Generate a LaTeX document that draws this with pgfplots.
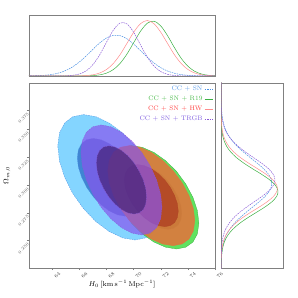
\documentclass[border=0pt]{standalone}
\usepackage{pgfplots}
\pgfplotsset{compat=1.18}
\usepackage{pgfplotstable}

\definecolor{lblue}{HTML}{4A90E2}
\definecolor{lgreen}{HTML}{3CB043}
\definecolor{lred}{HTML}{FF8C8C}
\definecolor{lpurple}{HTML}{8A5AD6}
\definecolor{tblue}{HTML}{5B9BE8}
\definecolor{tgreen}{HTML}{4CBB4C}
\definecolor{tred}{HTML}{FF4040}
\definecolor{tpurple}{HTML}{8060E0}
\definecolor{fbo}{HTML}{6FCEFF}
\definecolor{fbi}{HTML}{3377CC}
\definecolor{fgo}{HTML}{44DD44}
\definecolor{fgi}{HTML}{229922}
\definecolor{foo}{HTML}{E2743C}
\definecolor{foi}{HTML}{B04424}
\definecolor{fpo}{HTML}{8855EE}
\definecolor{fpi}{HTML}{442277}
\definecolor{frame}{HTML}{808080}

\pgfplotstableread{
x b g r p
62.0 0.0009 0 0 0
62.5 0.0024 0 0 0
63.0 0.0058 0 0 0
63.5 0.0129 0 0 0
64.0 0.0266 0 0 0.0002
64.5 0.0509 0 0 0.0007
65.0 0.0907 0 0.0002 0.0031
65.5 0.150 0.0001 0.0007 0.0110
66.0 0.231 0.0005 0.0024 0.0332
66.5 0.330 0.0020 0.0074 0.0853
67.0 0.439 0.0064 0.0203 0.187
67.5 0.543 0.0186 0.0494 0.349
68.0 0.624 0.0471 0.107 0.555
68.5 0.666 0.105 0.206 0.752
69.0 0.661 0.207 0.351 0.869
69.5 0.610 0.358 0.533 0.855
70.0 0.523 0.546 0.717 0.717
70.5 0.417 0.732 0.857 0.512
71.0 0.309 0.864 0.910 0.312
71.5 0.213 0.898 0.857 0.162
72.0 0.136 0.821 0.717 0.0716
72.5 0.0813 0.661 0.533 0.0270
73.0 0.0450 0.468 0.351 0.0087
73.5 0.0231 0.292 0.206 0.0024
74.0 0.0111 0.160 0.107 0.0006
74.5 0.0049 0.0776 0.0494 0.0001
75.0 0.0020 0.0330 0.0203 0
75.5 0.0008 0.0124 0.0074 0
76.0 0.0003 0.0041 0.0024 0
}\tophz

\pgfplotstableread{
O b g r p
0.220 0.0008 0.0005 0.0002 0.0001
0.225 0.0019 0.0013 0.0007 0.0003
0.230 0.0041 0.0032 0.0018 0.0008
0.235 0.0084 0.0074 0.0044 0.0020
0.240 0.0163 0.0162 0.0101 0.0047
0.245 0.0300 0.0331 0.0215 0.0103
0.250 0.0524 0.0629 0.0427 0.0210
0.255 0.0870 0.112 0.0791 0.0402
0.260 0.137 0.186 0.137 0.0724
0.265 0.205 0.287 0.220 0.123
0.270 0.292 0.414 0.331 0.195
0.275 0.395 0.558 0.465 0.291
0.280 0.506 0.701 0.610 0.408
0.285 0.617 0.822 0.745 0.538
0.290 0.714 0.900 0.850 0.667
0.295 0.784 0.919 0.905 0.775
0.300 0.818 0.875 0.899 0.847
0.305 0.810 0.778 0.833 0.870
0.310 0.762 0.645 0.720 0.839
0.315 0.681 0.499 0.581 0.760
0.320 0.578 0.361 0.437 0.647
0.325 0.466 0.243 0.307 0.517
0.330 0.356 0.153 0.201 0.388
0.335 0.259 0.0897 0.123 0.274
0.340 0.179 0.0490 0.0703 0.182
0.345 0.117 0.0251 0.0374 0.113
0.350 0.0729 0.0120 0.0186 0.0662
0.355 0.0431 0.0053 0.0086 0.0364
0.360 0.0242 0.0022 0.0037 0.0188
0.365 0.0129 0.0009 0.0015 0.0091
0.370 0.0065 0.0003 0.0006 0.0041
0.375 0.0031 0.0001 0.0002 0.0018
0.380 0.0014 0 0.0001 0.0007
0.385 0.0006 0 0 0.0003
0.390 0.0003 0 0 0.0001
0.395 0.0001 0 0 0
}\rightom

\pgfplotsset{
  panel/.style={
    scale only axis, anchor=south west,
    axis line style={draw=frame, line width=0.6pt},
    tick style={draw=frame, line width=0.4pt},
  },
  oned/.style={smooth, line width=0.5pt},
  dsh/.style={dash pattern=on 1.6pt off 0.9pt},
}

\begin{document}
\begin{tikzpicture}
\path (-29bp,-30bp) rectangle (269bp,268bp);

\begin{axis}[panel,
  at={(0bp,0bp)}, width=186bp, height=185bp,
  xmin=62.28, xmax=76, ymin=0.2254, ymax=0.3918,
  xtick={64,66,68,70,72,74,76},
  ytick={0.25,0.275,0.3,0.325,0.35,0.3675},
  yticklabels={0.250,0.275,0.300,0.325,0.350,0.375},
  tick align=outside, major tick length=2bp,
  xtick pos=bottom, ytick pos=left,
  xticklabel style={rotate=45, anchor=center, yshift=-7bp, font=\fontsize{4.2}{5}\selectfont, text=black!70, inner sep=0pt},
  yticklabel style={rotate=45, anchor=center, xshift=-8bp, yshift=-3bp, font=\fontsize{4.2}{5}\selectfont, text=black!70, inner sep=0pt},
  xlabel={$H_0\,[\mathrm{km\,s^{-1}\,Mpc^{-1}}]$},
  ylabel={$\Omega_{m,0}$},
  every axis x label/.style={at={(axis description cs:0.5,-0.085)}, anchor=center, font=\fontsize{7}{8}\selectfont},
  every axis y label/.style={at={(axis description cs:-0.118,0.5)}, anchor=center, rotate=90, font=\fontsize{7}{8}\selectfont},
  legend style={at={(0.99,0.995)}, anchor=north east, draw=none, fill=none,
    font=\fontsize{6.5}{7}\selectfont, inner sep=0pt, row sep=0pt,
    /tikz/every even column/.append style={column sep=1bp}},
  legend cell align=right, legend plot pos=right,
  legend image code/.code={\draw[#1] (0bp,0bp) -- (8bp,0bp);},
]
% CC + SN (blue)
\addplot[forget plot, fill=fbo, fill opacity=0.85, draw=lblue, dsh, line width=0.3pt] coordinates {
(72.00,0.2788) (71.87,0.2924) (71.49,0.3070) (70.89,0.3216) (70.10,0.3352) (69.18,0.3469) (68.20,0.3558) (67.22,0.3615) (66.30,0.3634) (65.51,0.3615) (64.91,0.3558) (64.53,0.3469) (64.40,0.3352) (64.53,0.3216) (64.91,0.3070) (65.51,0.2924) (66.30,0.2788) (67.22,0.2671) (68.20,0.2582) (69.18,0.2525) (70.10,0.2506) (70.89,0.2525) (71.49,0.2582) (71.87,0.2671) (72.00,0.2788)};
\addplot[forget plot, fill=fbi, fill opacity=0.85, draw=lblue, dsh, line width=0.3pt] coordinates {
(70.56,0.2895) (70.48,0.2979) (70.24,0.3070) (69.87,0.3161) (69.38,0.3245) (68.81,0.3317) (68.20,0.3373) (67.59,0.3408) (67.02,0.3420) (66.53,0.3408) (66.16,0.3373) (65.92,0.3317) (65.84,0.3245) (65.92,0.3161) (66.16,0.3070) (66.53,0.2979) (67.02,0.2895) (67.59,0.2823) (68.20,0.2767) (68.81,0.2732) (69.38,0.2720) (69.87,0.2732) (70.24,0.2767) (70.48,0.2823) (70.56,0.2895)};
% CC + SN + R19 (green)
\addplot[forget plot, fill=fgo, fill opacity=0.85, draw=lgreen, line width=0.3pt] coordinates {
(74.81,0.2657) (74.70,0.2770) (74.37,0.2890) (73.84,0.3010) (73.16,0.3123) (72.36,0.3219) (71.50,0.3293) (70.64,0.3339) (69.85,0.3355) (69.16,0.3339) (68.63,0.3293) (68.30,0.3219) (68.19,0.3123) (68.30,0.3010) (68.63,0.2890) (69.16,0.2770) (69.85,0.2657) (70.64,0.2561) (71.50,0.2487) (72.36,0.2441) (73.16,0.2425) (73.84,0.2441) (74.37,0.2487) (74.70,0.2561) (74.81,0.2657)};
\addplot[forget plot, fill=fgi, fill opacity=0.85, draw=lgreen, line width=0.3pt] coordinates {
(73.55,0.2746) (73.48,0.2815) (73.28,0.2890) (72.95,0.2965) (72.53,0.3034) (72.03,0.3094) (71.50,0.3139) (70.97,0.3168) (70.47,0.3178) (70.05,0.3168) (69.72,0.3139) (69.52,0.3094) (69.45,0.3034) (69.52,0.2965) (69.72,0.2890) (70.05,0.2815) (70.47,0.2746) (70.97,0.2686) (71.50,0.2641) (72.03,0.2611) (72.53,0.2602) (72.95,0.2611) (73.28,0.2641) (73.48,0.2686) (73.55,0.2746)};
% CC + SN + HW (red/orange)
\addplot[forget plot, fill=foo, fill opacity=0.88, draw=foo, line width=0.3pt] coordinates {
(74.51,0.2680) (74.40,0.2789) (74.08,0.2905) (73.57,0.3021) (72.91,0.3130) (72.13,0.3223) (71.30,0.3295) (70.47,0.3340) (69.70,0.3355) (69.03,0.3340) (68.52,0.3295) (68.20,0.3223) (68.09,0.3130) (68.20,0.3021) (68.52,0.2905) (69.03,0.2789) (69.70,0.2680) (70.47,0.2587) (71.30,0.2515) (72.13,0.2470) (72.91,0.2455) (73.57,0.2470) (74.08,0.2515) (74.40,0.2587) (74.51,0.2680)};
\addplot[forget plot, fill=foi, fill opacity=0.85, draw=foi, line width=0.3pt] coordinates {
(73.29,0.2765) (73.22,0.2833) (73.02,0.2905) (72.71,0.2977) (72.30,0.3045) (71.82,0.3102) (71.30,0.3147) (70.78,0.3174) (70.30,0.3184) (69.89,0.3174) (69.58,0.3147) (69.38,0.3102) (69.31,0.3045) (69.38,0.2977) (69.58,0.2905) (69.89,0.2833) (70.30,0.2765) (70.78,0.2708) (71.30,0.2663) (71.82,0.2636) (72.30,0.2626) (72.71,0.2636) (73.02,0.2663) (73.22,0.2708) (73.29,0.2765)};
% CC + SN + TRGB (purple)
\addplot[forget plot, fill=fpo, fill opacity=0.7, draw=lpurple, dsh, line width=0.3pt] coordinates {
(72.09,0.2798) (71.99,0.2918) (71.69,0.3046) (71.21,0.3174) (70.60,0.3294) (69.87,0.3396) (69.10,0.3475) (68.33,0.3524) (67.61,0.3541) (66.99,0.3524) (66.51,0.3475) (66.21,0.3396) (66.11,0.3294) (66.21,0.3174) (66.51,0.3046) (66.99,0.2918) (67.61,0.2798) (68.33,0.2696) (69.10,0.2617) (69.87,0.2568) (70.60,0.2551) (71.21,0.2568) (71.69,0.2617) (71.99,0.2696) (72.09,0.2798)};
\addplot[forget plot, fill=fpi, fill opacity=0.7, draw=lpurple, dsh, line width=0.3pt] coordinates {
(70.95,0.2892) (70.89,0.2967) (70.71,0.3046) (70.41,0.3125) (70.03,0.3200) (69.58,0.3263) (69.10,0.3312) (68.62,0.3343) (68.17,0.3353) (67.79,0.3343) (67.49,0.3312) (67.31,0.3263) (67.25,0.3200) (67.31,0.3125) (67.49,0.3046) (67.79,0.2967) (68.17,0.2892) (68.62,0.2829) (69.10,0.2780) (69.58,0.2749) (70.03,0.2739) (70.41,0.2749) (70.71,0.2780) (70.89,0.2829) (70.95,0.2892)};

\addlegendimage{lblue, dsh, line width=0.5pt}
\addlegendentry{\textcolor{tblue}{CC + SN}}
\addlegendimage{lgreen, line width=0.5pt}
\addlegendentry{\textcolor{tgreen}{CC + SN + R19}}
\addlegendimage{lred, line width=0.5pt}
\addlegendentry{\textcolor{tred}{CC + SN + HW}}
\addlegendimage{lpurple, dsh, line width=0.5pt}
\addlegendentry{\textcolor{tpurple}{CC + SN + TRGB}}
\end{axis}

\begin{axis}[panel,
  at={(0bp,192bp)}, width=186bp, height=61bp,
  xmin=62.28, xmax=76, ymin=0, ymax=1, ticks=none,
]
\addplot[oned, lblue, dsh] table[x=x, y=b]{\tophz};
\addplot[oned, lgreen] table[x=x, y=g]{\tophz};
\addplot[oned, lred] table[x=x, y=r]{\tophz};
\addplot[oned, lpurple, dsh] table[x=x, y=p]{\tophz};
\end{axis}

\begin{axis}[panel,
  at={(192bp,0bp)}, width=62bp, height=185bp,
  xmin=0, xmax=1, ymin=0.2254, ymax=0.3918, ticks=none,
]
\addplot[oned, lblue, dsh] table[x=b, y=O]{\rightom};
\addplot[oned, lgreen] table[x=g, y=O]{\rightom};
\addplot[oned, lred] table[x=r, y=O]{\rightom};
\addplot[oned, lpurple, dsh] table[x=p, y=O]{\rightom};
\end{axis}
\end{tikzpicture}
\end{document}
